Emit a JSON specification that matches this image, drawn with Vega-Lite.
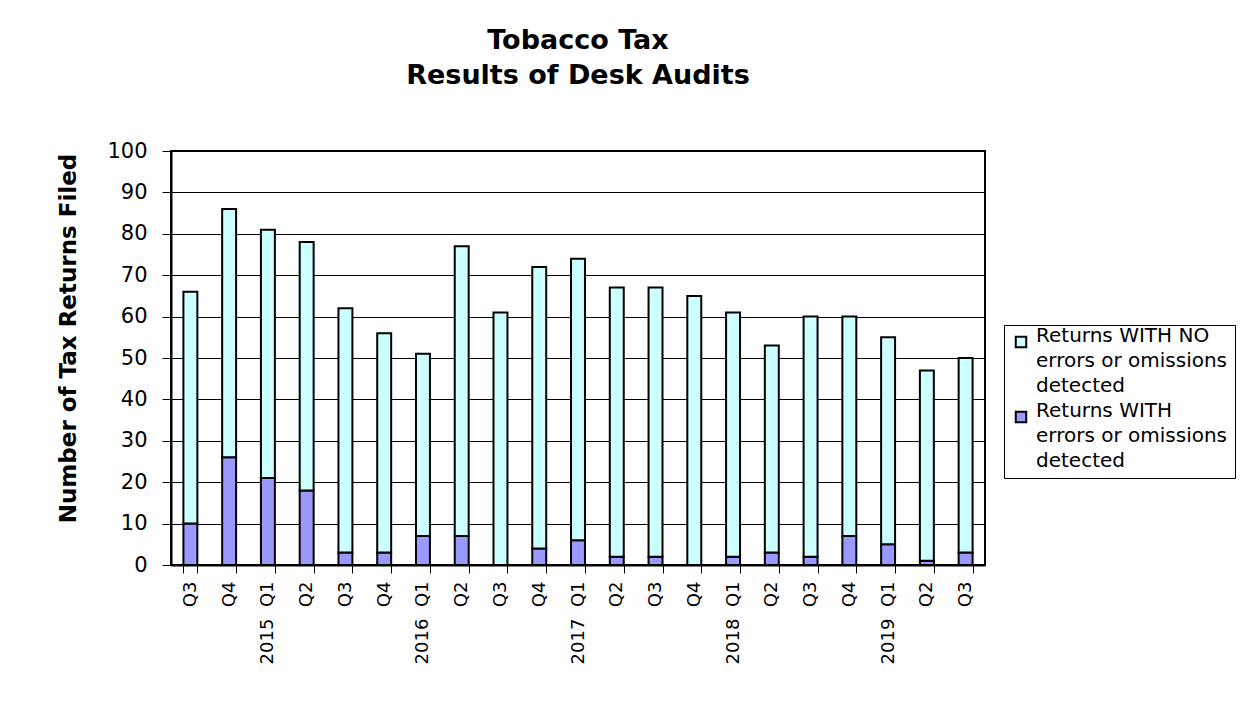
{
  "$schema": "https://vega.github.io/schema/vega-lite/v6.json",
  "width": 814,
  "height": 414,
  "autosize": {"type": "none"},
  "padding": {"left": 171, "top": 151, "right": 268, "bottom": 137},
  "background": "white",
  "title": {
    "text": ["Tobacco Tax", "Results of Desk Audits"],
    "font": "DejaVu Sans",
    "fontSize": 27,
    "fontWeight": "bold",
    "lineHeight": 35,
    "color": "black",
    "anchor": "middle",
    "frame": "group",
    "offset": 50
  },
  "data": {
    "values": [
      {"period": "2014 Q3", "type": "errors", "count": 10}, {"period": "2014 Q3", "type": "none", "count": 56},
      {"period": "2014 Q4", "type": "errors", "count": 26}, {"period": "2014 Q4", "type": "none", "count": 60},
      {"period": "2015 Q1", "type": "errors", "count": 21}, {"period": "2015 Q1", "type": "none", "count": 60},
      {"period": "2015 Q2", "type": "errors", "count": 18}, {"period": "2015 Q2", "type": "none", "count": 60},
      {"period": "2015 Q3", "type": "errors", "count": 3}, {"period": "2015 Q3", "type": "none", "count": 59},
      {"period": "2015 Q4", "type": "errors", "count": 3}, {"period": "2015 Q4", "type": "none", "count": 53},
      {"period": "2016 Q1", "type": "errors", "count": 7}, {"period": "2016 Q1", "type": "none", "count": 44},
      {"period": "2016 Q2", "type": "errors", "count": 7}, {"period": "2016 Q2", "type": "none", "count": 70},
      {"period": "2016 Q3", "type": "errors", "count": 0}, {"period": "2016 Q3", "type": "none", "count": 61},
      {"period": "2016 Q4", "type": "errors", "count": 4}, {"period": "2016 Q4", "type": "none", "count": 68},
      {"period": "2017 Q1", "type": "errors", "count": 6}, {"period": "2017 Q1", "type": "none", "count": 68},
      {"period": "2017 Q2", "type": "errors", "count": 2}, {"period": "2017 Q2", "type": "none", "count": 65},
      {"period": "2017 Q3", "type": "errors", "count": 2}, {"period": "2017 Q3", "type": "none", "count": 65},
      {"period": "2017 Q4", "type": "errors", "count": 0}, {"period": "2017 Q4", "type": "none", "count": 65},
      {"period": "2018 Q1", "type": "errors", "count": 2}, {"period": "2018 Q1", "type": "none", "count": 59},
      {"period": "2018 Q2", "type": "errors", "count": 3}, {"period": "2018 Q2", "type": "none", "count": 50},
      {"period": "2018 Q3", "type": "errors", "count": 2}, {"period": "2018 Q3", "type": "none", "count": 58},
      {"period": "2018 Q4", "type": "errors", "count": 7}, {"period": "2018 Q4", "type": "none", "count": 53},
      {"period": "2019 Q1", "type": "errors", "count": 5}, {"period": "2019 Q1", "type": "none", "count": 50},
      {"period": "2019 Q2", "type": "errors", "count": 1}, {"period": "2019 Q2", "type": "none", "count": 46},
      {"period": "2019 Q3", "type": "errors", "count": 3}, {"period": "2019 Q3", "type": "none", "count": 47}
    ]
  },
  "mark": {"type": "bar", "stroke": "black", "strokeWidth": 2},
  "encoding": {
    "x": {
      "field": "period",
      "type": "nominal",
      "sort": null,
      "scale": {"paddingInner": 0.64, "paddingOuter": 0.32},
      "axis": {
        "title": null,
        "labelAngle": 270,
        "labelAlign": "right",
        "labelBaseline": "middle",
        "labelFont": "DejaVu Sans",
        "labelFontSize": 18,
        "labelColor": "black",
        "labelPadding": 8,
        "tickBand": "extent",
        "tickSize": 8,
        "tickColor": "black",
        "tickWidth": 1,
        "domainColor": "black",
        "domainWidth": 2,
        "labelExpr": "split(datum.value, ' ')[1] == 'Q1' ? split(datum.value, ' ')[0] + '\u00a0\u00a0' + 'Q1' : split(datum.value, ' ')[1]"
      }
    },
    "y": {
      "field": "count",
      "type": "quantitative",
      "stack": "zero",
      "scale": {"domain": [0, 100], "nice": false},
      "axis": {
        "title": "Number of Tax Returns Filed",
        "values": [0, 10, 20, 30, 40, 50, 60, 70, 80, 90, 100],
        "grid": true,
        "gridColor": "black",
        "gridWidth": 1,
        "tickSize": 9,
        "tickColor": "black",
        "tickWidth": 1,
        "domainColor": "black",
        "domainWidth": 2,
        "labelFont": "DejaVu Sans",
        "labelFontSize": 21,
        "labelColor": "black",
        "labelPadding": 15,
        "titleFont": "DejaVu Sans",
        "titleFontSize": 23,
        "titleFontWeight": "bold",
        "titleColor": "black",
        "titlePadding": 26,
        "titleY": 187
      }
    },
    "color": {
      "field": "type",
      "type": "nominal",
      "scale": {"domain": ["none", "errors"], "range": ["#CCFFFF", "#9999FF"]},
      "legend": {
        "title": null,
        "orient": "none",
        "legendX": 833,
        "legendY": 174,
        "strokeColor": "black",
        "fillColor": "white",
        "padding": 7,
        "rowPadding": 5,
        "symbolType": "square",
        "symbolSize": 110,
        "symbolStrokeColor": "black",
        "symbolStrokeWidth": 2,
        "symbolOpacity": 1,
        "labelFont": "DejaVu Sans",
        "labelFontSize": 20,
        "labelColor": "black",
        "labelBaseline": "alphabetic",
        "labelOffset": 5,
        "labelLimit": 300,
        "labelExpr": "datum.value == 'none' ? ['Returns WITH NO', 'errors or omissions', 'detected'] : ['Returns WITH', 'errors or omissions', 'detected']"
      }
    },
    "order": {"field": "type", "sort": "ascending"}
  },
  "config": {
    "view": {"stroke": "black", "strokeWidth": 2},
    "style": {"guide-label": {"lineHeight": 25}}
  }
}
